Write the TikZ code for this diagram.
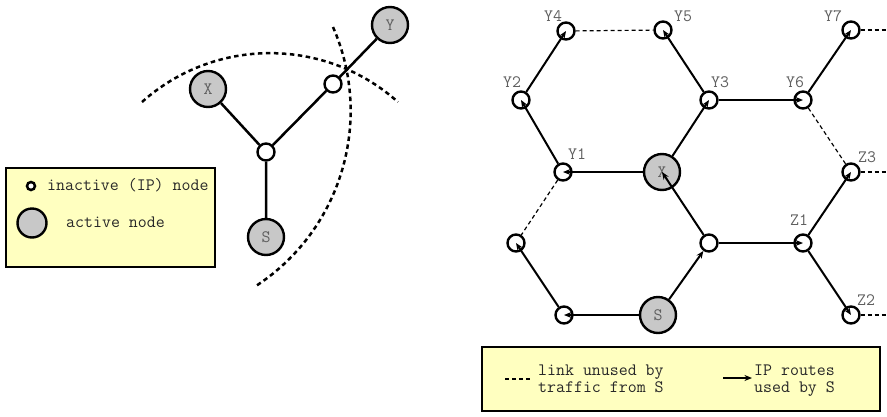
\documentclass[tikz,border=0pt]{standalone}
\usetikzlibrary{arrows.meta}

\definecolor{legendfill}{RGB}{255,255,192}
\definecolor{activefill}{RGB}{200,200,200}
\definecolor{labelgray}{RGB}{95,95,95}
\definecolor{keytext}{RGB}{40,40,40}

\begin{document}
\begin{tikzpicture}[x=1pt,y=-1pt,
  every node/.style={font=\ttfamily\fontsize{17.4}{15}\selectfont},
  inactive/.style={circle, draw, line width=2.4pt, fill=white,
    minimum size=17pt, inner sep=0pt},
  active/.style={circle, draw, line width=2.4pt, fill=activefill,
    minimum size=36pt, inner sep=0pt, text=labelgray},
  tag/.style={inner sep=0pt, text=labelgray},
  keytxt/.style={inner sep=0pt, anchor=base west, text=keytext,
    text height=11pt, text depth=3.5pt},
  keybox/.style={draw, line width=2pt, fill=legendfill, inner sep=0pt},
  tree/.style={line width=2.5pt},
  cut/.style={line width=2.5pt, dash pattern=on 4.5pt off 3.5pt},
  route/.style={line width=2pt, -{Stealth[length=7.5pt,width=6pt]}},
  unused/.style={line width=1.2pt, dash pattern=on 4pt off 3pt}]
\useasboundingbox (0,0) rectangle (887,416);

% ---------- left: small tree with two cut arcs ----------
\node[active]   (lX) at (208,89)  {X};
\node[active]   (lY) at (390,25)  {Y};
\node[inactive] (lU) at (333,84)  {};
\node[inactive] (lC) at (266,152) {};
\node[active]   (lS) at (266,237) {S};
\draw[tree] (lX) -- (lC) (lC) -- (lS) (lC) -- (lU) (lU) -- (lY);
\coordinate (arcA) at (142,102);
\coordinate (arcB) at (333,27);
\draw[cut] (arcA) arc[start angle=131.8, end angle=48.2, radius=192pt];
\draw[cut] (arcB) arc[start angle=23.7, end angle=-56.5, radius=209pt];

% ---------- left legend ----------
\node[keybox, minimum width=209pt, minimum height=99pt] (keyL) at (110.5,217.5) {};
\node[inactive, minimum size=8pt, line width=2.5pt] (keyIn) at (31,186) {};
\node[keytxt] (keyInT) at (47,190) {inactive (IP) node};
\node[active, minimum size=29pt] (keyAc) at (32,223) {};
\node[keytxt] (keyAcT) at (66,227) {active node};

% ---------- right: hexagonal network ----------
\node[inactive] (Y4) at (566,31)  {};
\node[inactive] (Y5) at (663,30)  {};
\node[inactive] (Y7) at (851,30)  {};
\node[inactive] (Y2) at (521,100) {};
\node[inactive] (Y3) at (709,100) {};
\node[inactive] (Y6) at (803,100) {};
\node[inactive] (Y1) at (563,172) {};
\node[active]   (X)  at (662,172) {X};
\node[inactive] (Z3) at (851,172) {};
\node[inactive] (L)  at (516,243) {};
\node[inactive] (M)  at (709,243) {};
\node[inactive] (Z1) at (803,243) {};
\node[inactive] (B)  at (564,315) {};
\node[active]   (S)  at (658,315) {S};
\node[inactive] (Z2) at (851,315) {};

\node[tag] at (553,16)  {Y4};
\node[tag] at (683,16)  {Y5};
\node[tag] at (833,16)  {Y7};
\node[tag] at (512,82)  {Y2};
\node[tag] at (720,82)  {Y3};
\node[tag] at (795,82)  {Y6};
\node[tag] at (577,154) {Y1};
\node[tag] at (867,157) {Z3};
\node[tag] at (799,220) {Z1};
\node[tag] at (866,300) {Z2};

% links not used by traffic from S
\coordinate (eY7) at (887,30);
\coordinate (eZ3) at (887,172);
\coordinate (eZ2) at (887,315);
\draw[unused] (Y4) -- (Y5);
\draw[unused] (Y7) -- (eY7);
\draw[unused] (Y6) -- (Z3);
\draw[unused] (Z3) -- (eZ3);
\draw[unused] (Z2) -- (eZ2);
\draw[unused] (Y1) -- (L);

% IP routes from S
\draw[route] (S) -- (M);
\draw[route] (M) -- (X.center);
\draw[route] (X) -- (Y1.center);
\draw[route] (X) -- (Y3.center);
\draw[route] (Y1) -- (Y2.center);
\draw[route] (Y2) -- (Y4.center);
\draw[route] (Y3) -- (Y5.center);
\draw[route] (Y3) -- (Y6.center);
\draw[route] (Y6) -- (Y7.center);
\draw[route] (M) -- (Z1.center);
\draw[route] (Z1) -- (Z3.center);
\draw[route] (Z1) -- (Z2.center);
\draw[route] (S) -- (B.center);
\draw[route] (B) -- (L.center);

% ---------- right legend ----------
\node[keybox, minimum width=398pt, minimum height=64pt] (keyR) at (681,379) {};
\coordinate (kd1) at (505,379);
\coordinate (kd2) at (531,379);
\draw[unused] (kd1) -- (kd2);
\node[keytxt] (keyD1) at (538,375.5) {link unused by};
\node[keytxt] (keyD2) at (538,392.5) {traffic from S};
\coordinate (ka1) at (723,378);
\coordinate (ka2) at (752,378);
\draw[route] (ka1) -- (ka2);
\node[keytxt] (keyA1) at (754,375.5) {IP routes};
\node[keytxt] (keyA2) at (754,392.5) {used by S};
\end{tikzpicture}
\end{document}
